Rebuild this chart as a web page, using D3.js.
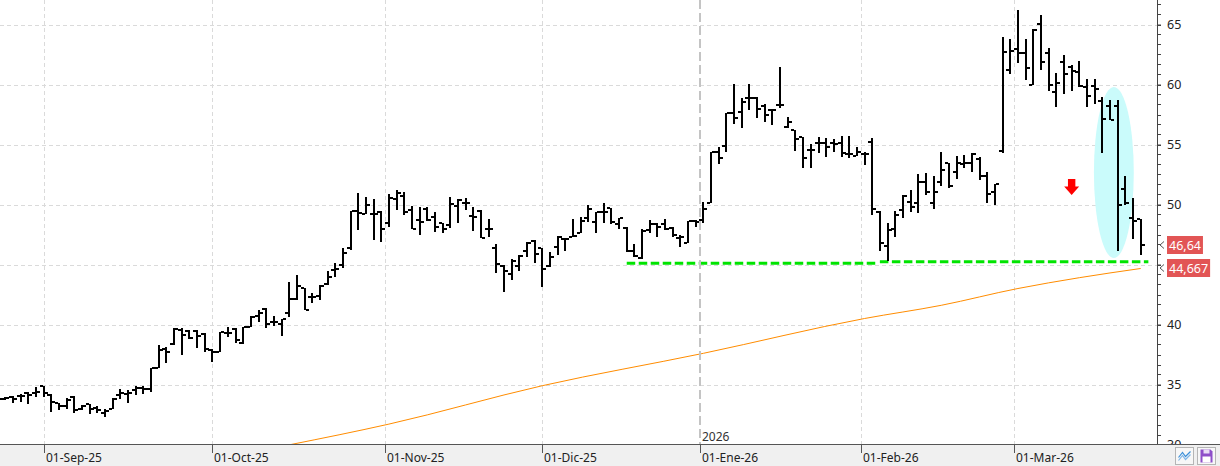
<!DOCTYPE html>
<html>
<head>
<meta charset="utf-8">
<script src="https://cdnjs.cloudflare.com/ajax/libs/d3/7.8.5/d3.min.js"></script>
<style>
  html, body { margin: 0; padding: 0; background: #fff; }
  svg { display: block; font-family: "Segoe UI", "Noto Sans", "Open Sans", sans-serif; }
</style>
</head>
<body>
<svg id="chart" width="1220" height="466"></svg>
<script>
// daily OHLC, 22-Aug-25 .. 24-Mar-26 (one row = 10 sessions)
var opens = [
  33.8, 33.8, 33.93, 34.07, 34.3, 34.32, 34.85, 34.1, 33.43, 33.2,
  33.98, 33.0, 33.35, 33.07, 32.6, 33.0, 34.1, 34.18, 34.54, 34.68,
  34.6, 36.4, 37.93, 38.35, 39.55, 39.5, 39.49, 39.18, 37.85, 37.74,
  39.32, 39.6, 38.43, 39.82, 40.71, 41.26, 40.24, 40.04, 40.98, 42.1,
  43.01, 42.26, 42.37, 43.35, 44.54, 44.96, 46.35, 49.49, 49.2, 49.2,
  49.4, 48.43, 50.45, 50.7, 49.54, 48.71, 49.6, 48.99, 48.43, 48.29,
  49.9, 50.15, 49.04, 49.49, 47.93, 46.35, 44.87, 44.18, 44.87, 46.15,
  46.99, 46.35, 44.87, 46.49, 47.1, 47.26, 47.65, 48.85, 48.51, 49.4,
  49.68, 48.35, 48.07, 46.13, 45.57, 47.88, 48.35, 48.35, 48.07, 47.18,
  46.76, 48.65, 48.71, 50.1, 54.35, 54.9, 57.6, 57.68, 58.85, 58.9,
  58.24, 57.88, 58.3, 56.5, 56.2, 55.6, 54.54, 55.1, 55.1, 55.1,
  55.15, 54.2, 54.04, 54.2, 55.24, 49.4, 46.54, 47.93, 49.54, 50.2,
  50.15, 51.9, 50.15, 51.9, 53.43, 52.74, 53.35, 53.49, 53.76, 52.37,
  51.07, 54.48, 61.2, 62.93, 62.6, 59.96, 65.04, 62.6, 59.35, 61.85,
  61.49, 61.07, 59.76, 59.87, 58.65, 58.21, 58.21, 51.29, 48.85, 48.76
];
var highs = [
  33.9, 34.0, 34.07, 34.18, 34.35, 34.76, 34.9, 34.18, 33.48, 33.9,
  34.04, 33.29, 33.37, 33.2, 32.93, 33.85, 34.6, 34.54, 34.9, 34.87,
  36.4, 38.29, 38.15, 39.68, 39.68, 39.54, 39.54, 39.26, 38.0, 39.4,
  39.76, 39.74, 39.82, 40.71, 41.21, 41.35, 40.71, 40.43, 43.57, 44.12,
  43.01, 42.6, 43.29, 44.49, 45.1, 46.35, 49.49, 50.93, 50.6, 50.43,
  49.49, 50.87, 51.21, 51.01, 49.88, 49.82, 49.76, 49.4, 48.49, 50.65,
  50.43, 50.51, 49.82, 49.54, 48.76, 46.71, 44.96, 45.43, 45.79, 46.9,
  47.04, 46.35, 46.07, 47.37, 47.18, 48.76, 48.99, 50.0, 49.4, 50.1,
  49.74, 48.9, 48.15, 46.68, 47.96, 48.71, 48.43, 48.79, 48.15, 47.46,
  48.65, 48.71, 50.24, 54.35, 54.82, 57.6, 60.01, 58.85, 60.01, 58.93,
  58.35, 57.96, 61.49, 57.3, 56.2, 55.65, 55.04, 55.6, 55.51, 55.43,
  55.71, 55.71, 54.82, 54.4, 55.51, 49.49, 48.43, 49.49, 50.79, 51.21,
  52.54, 52.6, 52.37, 54.4, 53.43, 54.04, 54.12, 54.32, 53.99, 52.74,
  51.7, 63.93, 63.76, 66.2, 63.76, 64.6, 65.79, 63.01, 60.93, 62.46,
  61.62, 61.96, 60.46, 60.46, 58.99, 58.71, 58.71, 52.37, 50.51, 48.76
];
var lows = [
  33.7, 33.7, 33.43, 33.57, 33.4, 33.99, 34.0, 32.74, 32.87, 33.0,
  32.65, 32.87, 32.54, 32.6, 32.26, 32.93, 33.76, 33.43, 34.12, 34.18,
  34.4, 36.35, 36.76, 38.29, 37.46, 38.76, 38.02, 37.74, 36.9, 37.74,
  39.0, 38.43, 38.35, 39.76, 40.2, 39.68, 39.9, 39.07, 40.65, 42.04,
  41.21, 41.76, 42.04, 43.29, 43.99, 44.68, 46.21, 47.88, 49.2, 47.04,
  46.85, 48.1, 49.54, 49.13, 47.93, 47.46, 48.65, 47.74, 47.6, 48.01,
  48.43, 49.54, 47.82, 47.18, 47.26, 44.32, 42.74, 43.71, 44.48, 45.65,
  45.15, 43.1, 44.76, 45.79, 46.15, 47.26, 47.6, 48.57, 47.6, 48.43,
  48.35, 48.0, 46.07, 45.65, 45.46, 47.6, 47.32, 47.88, 47.32, 46.49,
  46.76, 48.1, 48.43, 50.1, 53.35, 54.35, 56.68, 56.4, 57.9, 57.24,
  56.9, 56.63, 58.07, 56.4, 54.49, 53.01, 53.01, 54.26, 53.99, 54.4,
  53.99, 53.85, 54.04, 53.29, 49.12, 46.15, 45.32, 47.26, 48.85, 49.4,
  49.32, 50.79, 49.6, 51.54, 51.35, 52.1, 53.01, 52.74, 52.04, 50.1,
  49.96, 54.26, 60.87, 61.82, 60.37, 59.96, 61.2, 59.49, 58.15, 59.21,
  59.49, 59.76, 58.15, 58.35, 54.32, 57.04, 46.15, 49.96, 47.12, 45.79
];
var closes = [
  33.8, 33.9, 33.76, 34.04, 34.15, 34.4, 34.3, 33.57, 33.2, 33.7,
  32.9, 33.2, 32.93, 32.87, 32.8, 33.8, 34.3, 34.32, 34.68, 34.6,
  36.35, 37.87, 37.74, 39.62, 39.1, 38.9, 39.04, 37.93, 37.7, 39.4,
  39.32, 38.71, 39.76, 40.65, 40.98, 40.04, 40.24, 40.43, 42.1, 43.21,
  41.21, 42.26, 43.21, 43.99, 44.6, 45.99, 49.49, 49.26, 49.96, 49.2,
  47.93, 50.51, 50.98, 49.4, 47.93, 48.57, 48.71, 48.15, 47.93, 50.04,
  50.4, 50.15, 48.93, 47.18, 47.93, 45.01, 44.48, 45.3, 45.71, 46.76,
  45.9, 44.6, 45.6, 47.26, 47.1, 47.37, 48.65, 49.63, 49.35, 49.4,
  48.57, 48.85, 46.13, 45.74, 47.82, 48.35, 48.15, 47.96, 47.46, 47.32,
  48.65, 48.51, 49.63, 54.35, 53.85, 57.6, 57.18, 58.57, 58.85, 57.96,
  57.46, 57.88, 58.3, 56.9, 55.43, 53.85, 54.54, 55.1, 54.82, 55.04,
  54.26, 54.2, 54.4, 54.2, 49.6, 46.82, 47.9, 49.12, 50.71, 49.8,
  51.9, 51.07, 51.07, 52.87, 51.54, 53.43, 53.43, 54.2, 52.37, 50.85,
  51.7, 62.73, 62.79, 62.6, 61.35, 64.54, 61.85, 59.96, 60.1, 60.87,
  61.12, 59.87, 59.04, 59.6, 57.12, 57.04, 49.96, 50.1, 48.62, 46.64
];

// sessions: weekdays from the first to the last bar, minus market holidays
var firstDay = "2025-08-22", lastDay = "2026-03-24";
var holidays = ["2025-12-25", "2025-12-26", "2026-01-01"];

var monthTicks = ["2025-09-01", "2025-10-01", "2025-11-01", "2025-12-01", "2026-01-01", "2026-02-01", "2026-03-01"];
var monthLabels = ["01-Sep-25", "01-Oct-25", "01-Nov-25", "01-Dic-25", "01-Ene-26", "01-Feb-26", "01-Mar-26"];
var yearBreak = "2026-01-01", yearLabel = "2026";

var yTicks = [30, 35, 40, 45, 50, 55, 60, 65];
var yHiddenLabel = 45; // sits under the price tag

// moving average (bar index, value)
var maIndex = [31, 38, 51, 71, 92, 113, 123, 133, 141, 149];
var maValues = [29.1, 29.97, 31.7, 34.9, 37.6, 40.5, 41.6, 43.0, 43.9, 44.667];

// green support segments
var supportFrom = [82, 115];
var supportTo = [114.5, 150];
var supportLevel = [45.1, 45.22];

// annotations
var ellipseAt = 145.5, ellipseTop = 59.8, ellipseBottom = 45.55;
var arrowAt = 140, arrowTop = 52.13, arrowTip = 50.8;
var lastClose = 46.64, lastMa = 44.667;

var svg = d3.select("#chart"),
    plotRight = 1157,
    plotBottom = 444;

var parseDay = d3.timeParse("%Y-%m-%d"),
    fmtDay = d3.timeFormat("%Y-%m-%d");

var days = d3.timeDay.range(parseDay(firstDay), d3.timeDay.offset(parseDay(lastDay), 1))
    .filter(function(d) { var w = d.getDay(); return w > 0 && w < 6 && holidays.indexOf(fmtDay(d)) < 0; });

var x = d3.scaleLinear()
    .domain([0, opens.length - 1])
    .range([-2.3, 1140.7]);

var y = d3.scaleLinear()
    .domain([30, 65])
    .range([444.5, 24.5]);

// position of a calendar date: on its bar, or between bars when the market was shut
function dateX(s) {
  var d = parseDay(s), i = d3.bisectLeft(days, d);
  if (i < days.length && +days[i] === +d) return x(i);
  return x(i - 0.5);
}

var fmtComma = function(v) { return String(v).replace(".", ","); };

svg.append("defs").append("clipPath").attr("id", "plotclip")
  .append("rect").attr("x", 0).attr("y", 0).attr("width", plotRight).attr("height", plotBottom);

var plot = svg.append("g").attr("clip-path", "url(#plotclip)");

// grid
plot.selectAll(".hgrid").data(yTicks.filter(function(v) { return v > 30; }))
  .enter().append("line")
    .attr("x1", 0).attr("x2", plotRight)
    .attr("y1", function(v) { return Math.round(y(v)) + 0.5; })
    .attr("y2", function(v) { return Math.round(y(v)) + 0.5; })
    .attr("stroke", "#dadada").attr("stroke-dasharray", "4,3");

plot.selectAll(".vgrid").data(monthTicks.filter(function(m) { return m !== yearBreak; }))
  .enter().append("line")
    .attr("x1", function(m) { return Math.round(dateX(m)) + 0.5; })
    .attr("x2", function(m) { return Math.round(dateX(m)) + 0.5; })
    .attr("y1", 0).attr("y2", plotBottom)
    .attr("stroke", "#dadada").attr("stroke-dasharray", "4,3");

// year separator
svg.append("line")
    .attr("x1", Math.round(dateX(yearBreak))).attr("x2", Math.round(dateX(yearBreak)))
    .attr("y1", 0).attr("y2", plotBottom)
    .attr("stroke", "#c4c4c4").attr("stroke-width", 2).attr("stroke-dasharray", "9,4");

// highlight ellipse
var ry = (y(ellipseBottom) - y(ellipseTop)) / 2;
plot.append("ellipse")
    .attr("cx", x(ellipseAt))
    .attr("cy", (y(ellipseBottom) + y(ellipseTop)) / 2)
    .attr("rx", 2.6 * (x(1) - x(0)))
    .attr("ry", ry)
    .attr("fill", "#cafbfb");

// moving average
var maLine = d3.line()
    .x(function(d) { return x(d[0]); })
    .y(function(d) { return y(d[1]); })
    .curve(d3.curveMonotoneX);

plot.append("path")
    .datum(maIndex.map(function(i, k) { return [i, maValues[k]]; }))
    .attr("fill", "none")
    .attr("stroke", "#ff8c00")
    .attr("stroke-width", 1)
    .attr("d", maLine);

// support
supportLevel.forEach(function(v, k) {
  plot.append("line")
      .attr("x1", x(supportFrom[k])).attr("x2", x(supportTo[k]))
      .attr("y1", y(v)).attr("y2", y(v))
      .attr("stroke", "#00e400").attr("stroke-width", 3)
      .attr("stroke-dasharray", "8.5,3.5");
});

// OHLC bars
var bars = plot.selectAll(".bar")
    .data(opens.map(function(o, i) { return {i: i, o: o, h: highs[i], l: lows[i], c: closes[i]}; }))
  .enter().append("g")
    .attr("fill", "#000")
    .attr("shape-rendering", "crispEdges");

bars.append("rect")
    .attr("x", function(d) { return Math.round(x(d.i)) - 1; })
    .attr("width", 2)
    .attr("y", function(d) { return Math.round(y(d.h)); })
    .attr("height", function(d) { return Math.max(2, Math.round(y(d.l)) - Math.round(y(d.h))); });

bars.append("rect")
    .attr("x", function(d) { return Math.round(x(d.i)) - 4; })
    .attr("width", 3)
    .attr("y", function(d) { return Math.round(y(d.o)) - 1; })
    .attr("height", 2);

bars.append("rect")
    .attr("x", function(d) { return Math.round(x(d.i)) + 1; })
    .attr("width", 3)
    .attr("y", function(d) { return Math.round(y(d.c)) - 1; })
    .attr("height", 2);

// red arrow
var ax = x(arrowAt), at = y(arrowTop), ab = y(arrowTip), mid = at + (ab - at) * 0.48;
plot.append("path")
    .attr("d", "M" + (ax - 3.7) + "," + at + "H" + (ax + 3.7) + "V" + mid + "H" + (ax + 7.5) +
               "L" + ax + "," + ab + "L" + (ax - 7.5) + "," + mid + "H" + (ax - 3.7) + "Z")
    .attr("fill", "#ff0000");

// right axis
var yAxis = d3.axisRight(y)
    .tickValues(yTicks)
    .tickSize(4)
    .tickPadding(6)
    .tickFormat(function(v) { return v === yHiddenLabel ? "" : d3.format("d")(v); });

function customYAxis(g) {
  g.call(yAxis);
  g.select(".domain").remove();
  g.selectAll(".tick line").attr("stroke", "#444");
  g.selectAll(".tick text").attr("fill", "#222").attr("font-size", "12.5px").attr("font-family", "Segoe UI, Noto Sans, sans-serif");
}

var yg = svg.append("g")
    .attr("transform", "translate(" + plotRight + ",0)")
    .call(customYAxis);

yg.selectAll(".minor").data(d3.range(30, 67.5, 5 / 6))
  .enter().append("line")
    .attr("x1", 0).attr("x2", 4)
    .attr("y1", function(v) { return Math.round(y(v)) + 0.5; })
    .attr("y2", function(v) { return Math.round(y(v)) + 0.5; })
    .attr("stroke", "#444");

svg.append("line")
    .attr("x1", plotRight + 0.5).attr("x2", plotRight + 0.5)
    .attr("y1", 0).attr("y2", plotBottom + 1)
    .attr("stroke", "#444");

// price tags
[lastClose, lastMa].forEach(function(v) {
  var cy = Math.round(y(v));
  svg.append("path")
      .attr("d", "M" + (plotRight + 7) + "," + (cy - 3.5) + "L" + (plotRight + 3) + "," + cy + "L" + (plotRight + 7) + "," + (cy + 3.5))
      .attr("fill", "none").attr("stroke", "#555");
  var tag = svg.append("g");
  var t = tag.append("text")
      .attr("x", 1169).attr("y", cy + 4.5)
      .attr("fill", "#fff").attr("font-size", "12.5px")
      .text(fmtComma(v));
  var w = t.node().getComputedTextLength();
  tag.insert("rect", "text")
      .attr("x", 1167).attr("y", cy - 9)
      .attr("width", w + 4).attr("height", 18)
      .attr("fill", "#e25555");
});

// bottom band
svg.append("rect")
    .attr("x", 0).attr("y", plotBottom + 1)
    .attr("width", 1220).attr("height", 466 - plotBottom - 1)
    .attr("fill", "#f0f0f0");

svg.append("line")
    .attr("x1", 0).attr("x2", 1220)
    .attr("y1", plotBottom + 0.5).attr("y2", plotBottom + 0.5)
    .attr("stroke", "#555");

var xg = svg.append("g");
xg.selectAll(".xt").data(monthTicks)
  .enter().append("line")
    .attr("x1", function(m) { return Math.round(dateX(m)) + 0.5; })
    .attr("x2", function(m) { return Math.round(dateX(m)) + 0.5; })
    .attr("y1", plotBottom).attr("y2", plotBottom + 9)
    .attr("stroke", "#555");

xg.selectAll(".xl").data(monthTicks)
  .enter().append("text")
    .attr("x", function(m) { return Math.round(dateX(m)) + 2; })
    .attr("y", 462)
    .attr("fill", "#222").attr("font-size", "12px")
    .text(function(m, k) { return monthLabels[k]; });

svg.append("text")
    .attr("x", Math.round(dateX(yearBreak)) + 2)
    .attr("y", 441)
    .attr("fill", "#333").attr("font-size", "12px")
    .text(yearLabel);

// toolbar buttons
var b1 = svg.append("g").attr("transform", "translate(1175.5,447.5)");
b1.append("rect").attr("width", 18).attr("height", 17).attr("fill", "#f7f7f7").attr("stroke", "#b5b5b5");
b1.append("path").attr("d", "M3,10 L7,5 L10,9 L15,4").attr("fill", "none").attr("stroke", "#3a8fd9").attr("stroke-width", 1.2);
b1.append("path").attr("d", "M3,13 L7,8 L10,12 L15,7").attr("fill", "none").attr("stroke", "#7fb6e8").attr("stroke-width", 1.2);

var b2 = svg.append("g").attr("transform", "translate(1197.5,447.5)");
b2.append("rect").attr("width", 18).attr("height", 17).attr("fill", "#f7f7f7").attr("stroke", "#b5b5b5");
b2.append("path").attr("d", "M3,2 H13 L15,4 V15 H3 Z").attr("fill", "#8e4fc9");
b2.append("rect").attr("x", 6).attr("y", 2).attr("width", 6).attr("height", 4).attr("fill", "#e8dcf5");
b2.append("rect").attr("x", 5).attr("y", 9).attr("width", 8).attr("height", 6).attr("fill", "#ffffff");
</script>
</body>
</html>
